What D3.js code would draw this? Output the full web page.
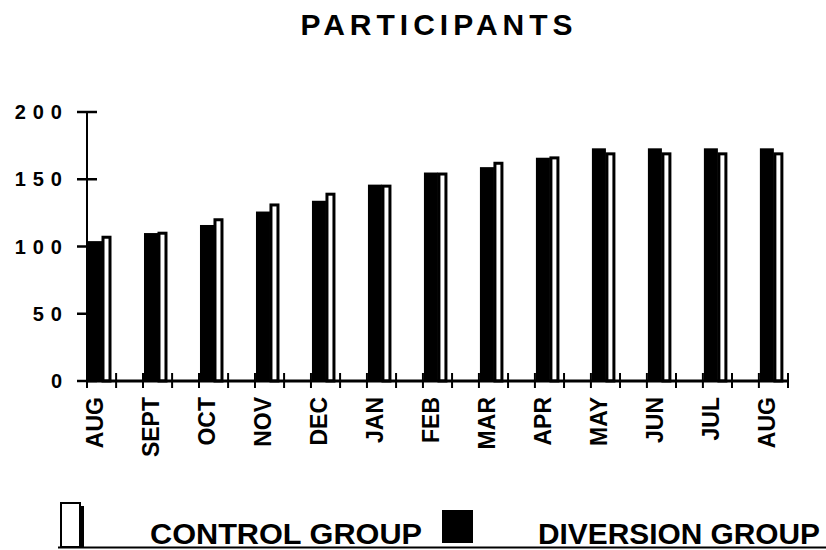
<!DOCTYPE html>
<html>
<head>
<meta charset="utf-8">
<script src="https://cdn.jsdelivr.net/npm/d3@7"></script>
<style>
  html, body { margin: 0; padding: 0; background: #fff; }
  svg { display: block; }
</style>
</head>
<body>
<svg id="chart" width="826" height="550"></svg>
<script>
const title = "PARTICIPANTS";
const months = ["AUG","SEPT","OCT","NOV","DEC","JAN","FEB","MAR","APR","MAY","JUN","JUL","AUG"];
const diversion = [104,110,116,126,134,146,155,159,166,173,173,173,173];
const control   = [108,111,121,132,140,146,155,163,167,170,170,170,170];
const yTicks = [0, 50, 100, 150, 200];
const legendLabels = ["CONTROL GROUP", "DIVERSION GROUP"];

const svg = d3.select("#chart");
const idx = months.map((m, i) => i);

const x = d3.scaleBand().domain(idx).range([87, 788]).paddingInner(0.48).paddingOuter(0);
const y = d3.scaleLinear().domain([0, 200]).range([381, 112]);

const font = "'Liberation Sans', Arial, Helvetica, sans-serif";

// Title
svg.append("text")
  .attr("x", 439).attr("y", 35)
  .attr("text-anchor", "middle")
  .attr("font-family", font)
  .attr("font-weight", "bold")
  .attr("font-size", 30)
  .attr("letter-spacing", 5)
  .text(title);

// Bars
const g = svg.append("g");
g.selectAll("rect.div").data(idx).join("rect")
  .attr("class", "div")
  .attr("x", i => x(i) + 1)
  .attr("y", i => y(diversion[i]))
  .attr("width", 14)
  .attr("height", i => y(0) - y(diversion[i]))
  .attr("fill", "#000");

g.selectAll("rect.ctl").data(idx).join("rect")
  .attr("class", "ctl")
  .attr("x", i => x(i) + 16)
  .attr("y", i => y(control[i]) + 1.5)
  .attr("width", 7)
  .attr("height", i => y(0) - y(control[i]) - 1.5)
  .attr("fill", "#fff")
  .attr("stroke", "#000")
  .attr("stroke-width", 3);

// Y axis
svg.append("line")
  .attr("x1", 87).attr("x2", 87)
  .attr("y1", y(200)).attr("y2", y(0))
  .attr("stroke", "#000").attr("stroke-width", 2);

svg.selectAll("line.ytick").data(yTicks).join("line")
  .attr("class", "ytick")
  .attr("x1", 77).attr("x2", 97)
  .attr("y1", d => y(d)).attr("y2", d => y(d))
  .attr("stroke", "#000").attr("stroke-width", 2.5);

svg.selectAll("text.ylab").data(yTicks).join("text")
  .attr("class", "ylab")
  .attr("x", 69)
  .attr("y", d => y(d))
  .attr("dy", "0.36em")
  .attr("text-anchor", "end")
  .attr("font-family", font)
  .attr("font-weight", "bold")
  .attr("font-size", 20)
  .attr("letter-spacing", 7)
  .text(d => d);

// X axis
svg.append("line")
  .attr("x1", 87).attr("x2", 789)
  .attr("y1", y(0)).attr("y2", y(0))
  .attr("stroke", "#000").attr("stroke-width", 3);

const tickPos = [];
idx.forEach(i => { tickPos.push(x(i)); tickPos.push(x(i) + x.bandwidth()); });
svg.selectAll("line.xtick").data(tickPos).join("line")
  .attr("class", "xtick")
  .attr("x1", d => d).attr("x2", d => d)
  .attr("y1", y(0) - 8).attr("y2", y(0) + 7)
  .attr("stroke", "#000").attr("stroke-width", 2);

svg.selectAll("text.xlab").data(idx).join("text")
  .attr("class", "xlab")
  .attr("transform", i => `translate(${x(i) + 8},397) rotate(-90)`)
  .attr("dy", "0.36em")
  .attr("text-anchor", "end")
  .attr("font-family", font)
  .attr("font-weight", "bold")
  .attr("font-size", 23)
  .text(i => months[i]);

// Legend
svg.append("rect")
  .attr("x", 61).attr("y", 503).attr("width", 19).attr("height", 44)
  .attr("fill", "#fff").attr("stroke", "#000").attr("stroke-width", 2);
svg.append("rect")
  .attr("x", 79).attr("y", 506).attr("width", 5).attr("height", 41)
  .attr("fill", "#000");

const legFont = "'Liberation Sans Narrow', 'Arial Narrow', 'Liberation Sans', Arial, sans-serif";
svg.append("text")
  .attr("x", 150).attr("y", 543.5)
  .attr("font-family", legFont)
  .attr("font-weight", "bold")
  .attr("font-size", 29)
  .attr("textLength", 272)
  .attr("lengthAdjust", "spacingAndGlyphs")
  .text(legendLabels[0]);

svg.append("rect")
  .attr("x", 442).attr("y", 510).attr("width", 31).attr("height", 33)
  .attr("fill", "#000");

svg.append("text")
  .attr("x", 538).attr("y", 543.5)
  .attr("font-family", legFont)
  .attr("font-weight", "bold")
  .attr("font-size", 29)
  .attr("textLength", 282)
  .attr("lengthAdjust", "spacingAndGlyphs")
  .text(legendLabels[1]);

svg.append("line")
  .attr("x1", 58).attr("x2", 826)
  .attr("y1", 547.5).attr("y2", 547.5)
  .attr("stroke", "#000").attr("stroke-width", 2);
</script>
</body>
</html>
